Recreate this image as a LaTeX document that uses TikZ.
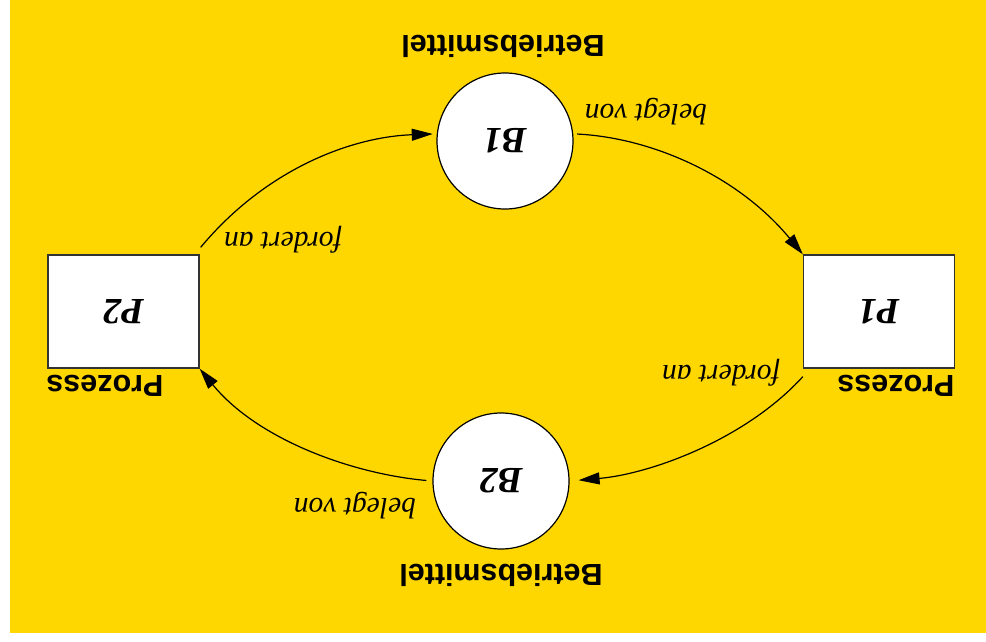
\documentclass[tikz,border=0pt]{standalone}
\usepackage{graphicx}
\usepackage{fontspec}
\setmainfont{Liberation Serif}
\setsansfont{Liberation Sans}
\usetikzlibrary{arrows.meta,calc}
\definecolor{bg}{HTML}{FFD700}
\definecolor{boxline}{HTML}{333333}
\newcommand{\flipit}[1]{\rotatebox{180}{#1}}
\begin{document}
\begin{tikzpicture}[x=1pt,y=-1pt,
  proc/.style={draw=boxline,fill=white,line width=1.3pt,minimum width=151pt,minimum height=113pt,inner sep=0pt,font=\fontsize{37}{39}\selectfont\bfseries\itshape},
  res/.style={circle,draw=black,fill=white,line width=1.2pt,minimum size=136pt,inner sep=0pt,font=\fontsize{37}{39}\selectfont\bfseries\itshape},
  captext/.style={inner sep=0pt,font=\fontsize{30.5}{32}\selectfont\sffamily\bfseries},
  rel/.style={inner sep=0pt,font=\fontsize{29.5}{31}\selectfont\itshape},
  conn/.style={line width=1.2pt,-{Triangle[length=21pt,width=12pt]}}]
\useasboundingbox (0,0) rectangle (986,642);
\fill[bg] (10,0) rectangle (986,633);

\node[proc] (p2) at (123.5,311.5) {\flipit{P2}};
\node[proc] (p1) at (879,311.5) {\flipit{P1}};
\node[res] (b1) at (505,141) {\flipit{B1}};
\node[res] (b2) at (501,481) {\flipit{B2}};

\node[captext] (cb1) at (503,46) {\flipit{Betriebsmittel}};
\node[captext] (cb2) at (501,575) {\flipit{Betriebsmittel}};
\node[captext] (cp2) at (105,386) {\flipit{Prozess}};
\node[captext] (cp1) at (896,386) {\flipit{Prozess}};

\node[rel] (l1) at (283,240) {\flipit{fordert an}};
\node[rel] (l2) at (646,112) {\flipit{belegt von}};
\node[rel] (l3) at (721,373) {\flipit{fordert an}};
\node[rel] (l4) at (355,506) {\flipit{belegt von}};

\draw[conn,shorten >=4pt] ($(p2.north east)+(1,-7)$) .. controls (265,170) and (350,137) .. (b1.174);
\draw[conn,shorten <=4pt] (b1.6) .. controls (655,138) and (740,178) .. (p1.north west);
\draw[conn,shorten >=9pt] ($(p1.south west)+(0,8)$) .. controls (745,440) and (650,474) .. (b2.0);
\draw[conn,shorten <=6pt] (b2.180) .. controls (353,474) and (258,440) .. (p2.south east);
\end{tikzpicture}
\end{document}
